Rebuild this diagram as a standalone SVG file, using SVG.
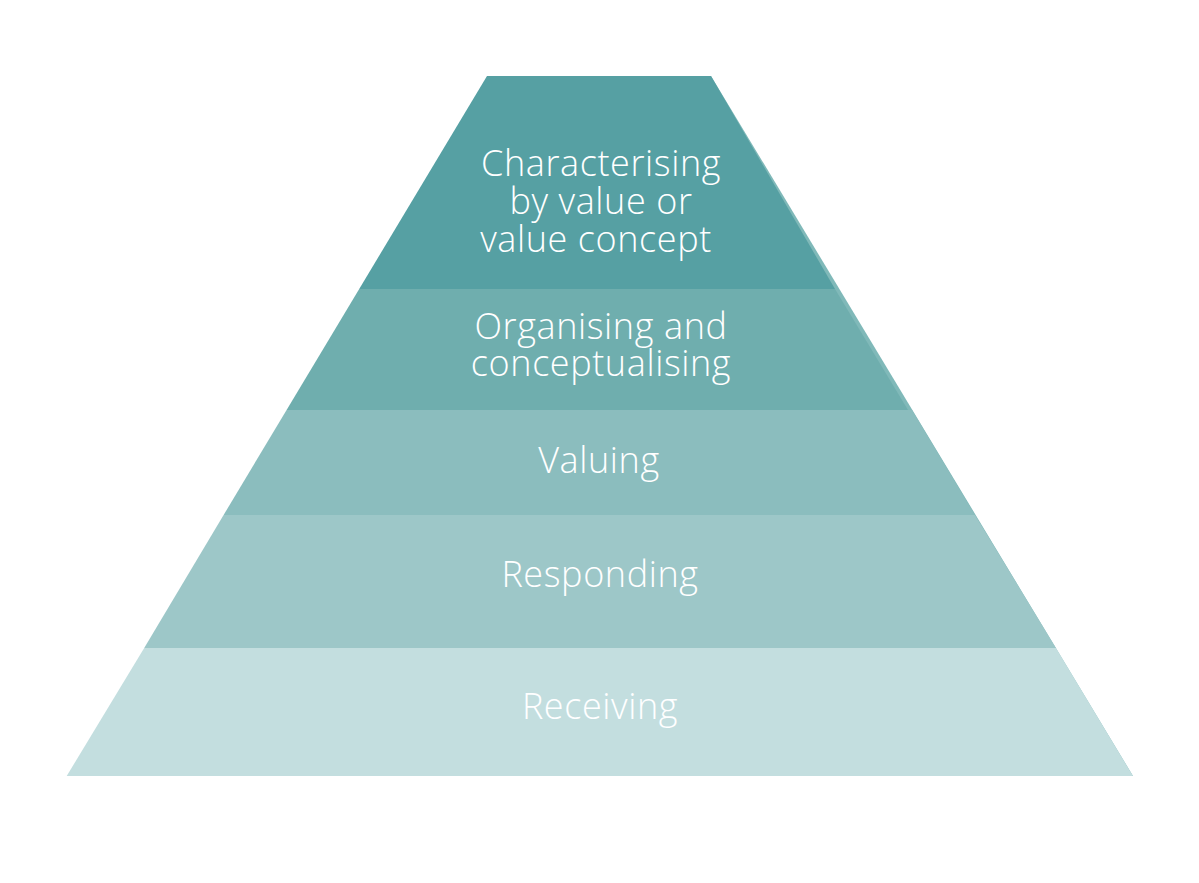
<svg xmlns="http://www.w3.org/2000/svg" width="1199" height="883" viewBox="0 0 1199 883">
<style>
text{font-family:"Open Sans","Liberation Sans",sans-serif;font-size:36px;letter-spacing:0.6px;fill:#ffffff;text-anchor:middle;font-weight:300}
</style>
<rect width="1199" height="883" fill="#ffffff"/>
<g id="edge-sliver"><polygon points="711,76 1133,776 1100,776 706,76" fill="#80b9b9"/></g>
<g id="band5"><polygon points="144.2,648 1056,648 1133,776 66.7,776" fill="#c3dedf"/><text x="600" y="719">Receiving</text></g>
<g id="band4"><polygon points="223.6,515 975,515 1056,648 144.2,648" fill="#9dc7c8"/><text x="600" y="587">Responding</text></g>
<g id="band3"><polygon points="286.6,410 912,410 975,515 223.6,515" fill="#8bbdbe"/><text x="599" y="473">Valuing</text></g>
<g id="band2"><polygon points="359.2,289 835,289 908,410 286.6,410" fill="#6faeae"/><text x="601" y="339">Organising and</text><text x="601" y="376">conceptualising</text></g>
<g id="band1"><polygon points="487,76 711,76 835,289 359.2,289" fill="#56a0a3"/><text x="601" y="176">Characterising</text><text x="601" y="214">by value or</text><text x="596" y="252">value concept</text></g>
</svg>
